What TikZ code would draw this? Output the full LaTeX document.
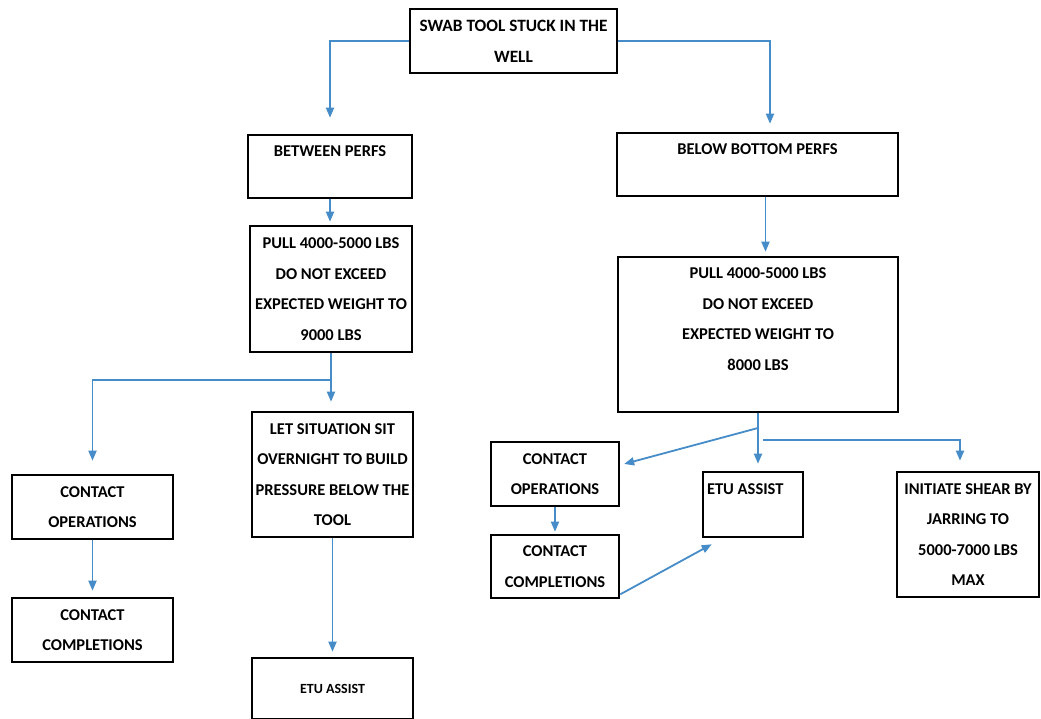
\documentclass[tikz,border=0pt]{standalone}
\usepackage{fontspec}
\setmainfont{Carlito}
\usepackage{xcolor}
\usetikzlibrary{arrows.meta}

\definecolor{linkblue}{RGB}{70,140,200}

\begin{document}
\begin{tikzpicture}[
                        x=1pt, y=-1pt,
                        every node/.style={
                                font=\fontsize{16.5}{30.5}\selectfont\bfseries,
                            },
                        flowbox/.style={draw, line width=2.6pt, inner xsep=2pt, inner ysep=3pt, align=center},
                        flowarrow/.style={linkblue, line width=1.8pt, -{Triangle[length=10pt,width=8pt]}},
                    ]

                    \path[use as bounding box, fill=white] (0,0) rectangle (1041,719);

                    \node[flowbox, minimum width=207pt, minimum height=64pt, font=\fontsize{17.3}{31}\selectfont\bfseries] (swab) at (513.5,41) {SWAB TOOL STUCK IN THE\\WELL};

                    \node[flowbox, minimum width=164pt, minimum height=63pt] (between) at (330,166.5) {BETWEEN PERFS\\~};
                    \node[flowbox, minimum width=281pt, minimum height=63pt] (below) at (757.5,164.5) {BELOW BOTTOM PERFS\\~};

                    \node[flowbox, minimum width=162pt, minimum height=126pt] (pullL) at (331,289) {PULL 4000-5000 LBS\\DO NOT EXCEED\\EXPECTED WEIGHT TO\\9000 LBS};
                    \node[flowbox, minimum width=280pt, minimum height=155pt] (pullR) at (758,334.5) {PULL 4000-5000 LBS\\DO NOT EXCEED\\EXPECTED WEIGHT TO\\8000 LBS\\~};

                    \node[flowbox, minimum width=161pt, minimum height=125pt] (letsit) at (332.5,474.5) {LET SITUATION SIT\\OVERNIGHT TO BUILD\\PRESSURE BELOW THE\\TOOL};
                    \node[flowbox, minimum width=161pt, minimum height=64pt] (coL) at (92.5,507) {CONTACT\\OPERATIONS};
                    \node[flowbox, minimum width=161pt, minimum height=64pt] (ccL) at (92.5,630) {CONTACT\\COMPLETIONS};
                    \node[flowbox, minimum width=161pt, minimum height=61pt, font=\fontsize{14}{20}\selectfont\bfseries] (etuL) at (332.5,688.5) {ETU ASSIST};

                    \node[flowbox, minimum width=128pt, minimum height=64pt] (coR) at (555,474) {CONTACT\\OPERATIONS};
                    \node[flowbox, minimum width=128pt, minimum height=63pt] (ccR) at (555,566.5) {CONTACT\\COMPLETIONS};
                    \node[flowbox, minimum width=100pt, minimum height=65pt, text width=92pt, align=flush left] (etuR) at (753,504.5) {ETU ASSIST\\~};
                    \node[flowbox, minimum width=142pt, minimum height=125pt] (shear) at (968,534.5) {INITIATE SHEAR BY\\JARRING TO\\5000-7000 LBS\\MAX};

                    \coordinate (forkL) at (332,380);
                    \coordinate (forkR1) at (758,428);
                    \coordinate (forkR2) at (763,440);

                    \draw[flowarrow, shorten >=16pt] (swab.west) -| (between.north);
                    \draw[flowarrow, shorten >=8pt] (swab.east) -| ([xshift=12.5pt]below.north);
                    \draw[flowarrow, shorten >=3pt] (between.south) -- (between.south |- pullL.north);
                    \draw[flowarrow, shorten >=4pt] ([xshift=8pt]below.south) -- ([xshift=8pt]below.south |- pullR.north);

                    \draw[flowarrow, shorten >=9pt] (pullL.south) -- (pullL.south |- letsit.north);
                    \draw[flowarrow, shorten >=13pt] (forkL) -| (coL.north);
                    \draw[flowarrow, shorten >=6pt] (coL.south) -- (ccL.north);
                    \draw[flowarrow, shorten >=5pt] (letsit.south) -- (letsit.south |- etuL.north);

                    \draw[flowarrow, shorten >=7pt] (pullR.south) -- (pullR.south |- etuR.north);
                    \draw[flowarrow, shorten >=4pt] (forkR1) -- ([yshift=9pt]coR.east);
                    \draw[flowarrow, shorten >=10pt] (forkR2) -| ([xshift=-8pt]shear.north);
                    \draw[flowarrow, shorten >=2pt] (coR.south) -- (ccR.north);
                    \draw[flowarrow] ([yshift=5pt]ccR.south east) -- ([xshift=10pt,yshift=-6pt]etuR.south west);
                \end{tikzpicture}
\end{document}
